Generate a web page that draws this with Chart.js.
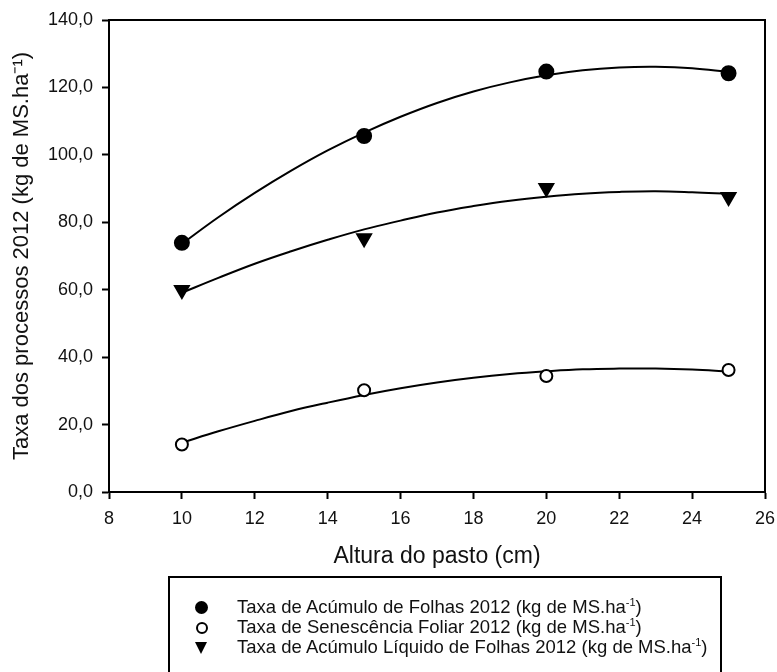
<!DOCTYPE html>
<html>
<head>
<meta charset="utf-8">
<script src="https://cdn.jsdelivr.net/npm/chart.js@4/dist/chart.umd.min.js"></script>
<style>
  html, body { margin: 0; padding: 0; background: #fff; }
  #wrap { position: relative; width: 777px; height: 672px; overflow: hidden; }
  #legend {
    position: absolute; left: 168px; top: 576px; width: 554px; height: 120px;
    border: 2px solid #000; border-bottom: none; box-sizing: border-box;
    font-family: "Liberation Sans", Arial, sans-serif; font-size: 18.5px; color: #111;
  }
  .row { position: absolute; left: 0; height: 20px; line-height: 20px; white-space: nowrap; }
  .row .txt { position: absolute; left: 67px; top: 0; }
  .row sup { font-size: 11px; line-height: 0; vertical-align: 7px; }
  .mk { position: absolute; }
  .dot { left: 25px; top: 4px; width: 13px; height: 13px; border-radius: 50%; background: #000; }
  .ring { left: 26px; top: 5px; width: 8px; height: 8px; border-radius: 50%; border: 2px solid #000; }
  .tri { left: 25px; top: 5px; width: 0; height: 0; border-left: 6px solid transparent; border-right: 6px solid transparent; border-top: 12px solid #000; }
</style>
</head>
<body>
<div id="wrap">
  <canvas id="chart" width="777" height="672"></canvas>
  <div id="legend">
    <div class="row" style="top:19px"><span class="mk dot"></span><span class="txt">Taxa de Acúmulo de Folhas 2012 (kg de MS.ha<sup>-1</sup>)</span></div>
    <div class="row" style="top:39px"><span class="mk ring"></span><span class="txt">Taxa de Senescência Foliar 2012 (kg de MS.ha<sup>-1</sup>)</span></div>
    <div class="row" style="top:59px"><span class="mk tri"></span><span class="txt">Taxa de Acúmulo Líquido de Folhas 2012 (kg de MS.ha<sup>-1</sup>)</span></div>
  </div>
</div>
<script>
// alturas observadas (cm)
const alturas = [10, 15, 20, 25];
const acumuloFolhas = [73.9, 105.6, 124.7, 124.2];
const senescencia = [14.1, 30.2, 34.4, 36.2];
const acumuloLiquido = [59.9, 75.3, 90.2, 87.5];

const alturasCurva = [10, 11, 12, 13, 14, 15, 16, 17, 18, 19, 20, 21, 22, 23, 24, 25];
const curvaAcumulo = [73.6, 81.5, 88.7, 95.3, 101.3, 106.6, 111.3, 115.4, 118.8, 121.5, 123.6, 125.1, 125.9, 126.1, 125.7, 124.6];
const curvaSenescencia = [14.6, 18.0, 21.1, 24.0, 26.5, 28.8, 30.8, 32.5, 33.9, 35.0, 35.8, 36.4, 36.6, 36.6, 36.3, 35.7];
const curvaLiquido = [59.1, 63.5, 67.7, 71.4, 74.8, 77.9, 80.5, 82.9, 84.8, 86.4, 87.6, 88.5, 89.0, 89.2, 88.9, 88.4];

const xTicks = [8, 10, 12, 14, 16, 18, 20, 22, 24, 26];
const yTicks = [0, 20, 40, 60, 80, 100, 120, 140];

const FONT = '"Liberation Sans", Arial, sans-serif';

function pts(xs, ys) {
    return xs.map((x, i) => ({ x: x, y: ys[i] }));
}

function curva(ys) {
    return {
        type: 'line',
        data: pts(alturasCurva, ys),
        borderColor: '#000',
        borderWidth: 2,
        pointRadius: 0,
        fill: false,
        tension: 0.4,
        order: 2
    };
}

function pontos(ys, style, filled, radius, rot) {
    return {
        type: 'scatter',
        data: pts(alturas, ys),
        pointStyle: style,
        pointRadius: radius,
        rotation: rot || 0,
        pointBackgroundColor: filled ? '#000' : '#fff',
        pointBorderColor: '#000',
        pointBorderWidth: 2,
        order: 1
    };
}

// moldura completa em volta da área do gráfico
const moldura = {
    id: 'moldura',
    afterDraw(chart) {
        const a = chart.chartArea;
        const ctx = chart.ctx;
        ctx.save();
        ctx.strokeStyle = '#000';
        ctx.lineWidth = 2;
        ctx.strokeRect(a.left, a.top, a.right - a.left, a.bottom - a.top);
        ctx.restore();
    }
};

const ctx = document.getElementById('chart').getContext('2d');
new Chart(ctx, {
    data: {
        datasets: [
            curva(curvaAcumulo),
            curva(curvaSenescencia),
            curva(curvaLiquido),
            pontos(acumuloFolhas, 'circle', true, 7),
            pontos(senescencia, 'circle', false, 6),
            pontos(acumuloLiquido, 'triangle', true, 8, 180)
        ]
    },
    options: {
        responsive: false,
        animation: false,
        layout: { padding: { left: 0, top: 20, right: 12, bottom: 100 } },
        plugins: {
            legend: { display: false },
            tooltip: { enabled: false }
        },
        scales: {
            x: {
                type: 'linear',
                min: 8,
                max: 26,
                afterBuildTicks: s => { s.ticks = xTicks.map(v => ({ value: v })); },
                afterFit: s => { s.height = 80; s.paddingLeft = 0; s.paddingRight = 0; },
                ticks: { color: '#111', padding: 9, font: { family: FONT, size: 18 } },
                grid: { drawOnChartArea: false, drawTicks: true, tickLength: 7, tickColor: '#000', tickWidth: 2 },
                border: { display: true, color: '#000', width: 2 },
                title: {
                    display: true,
                    text: 'Altura do pasto (cm)',
                    color: '#111',
                    font: { family: FONT, size: 23 },
                    padding: { top: 0, bottom: 2 }
                }
            },
            y: {
                type: 'linear',
                min: 0,
                max: 140,
                afterBuildTicks: s => { s.ticks = yTicks.map(v => ({ value: v })); },
                afterFit: s => { s.width = 109; s.paddingTop = 0; s.paddingBottom = 0; },
                ticks: {
                    color: '#111',
                    padding: 9,
                    font: { family: FONT, size: 18 },
                    callback: v => v.toFixed(1).replace('.', ',')
                },
                grid: { drawOnChartArea: false, drawTicks: true, tickLength: 7, tickColor: '#000', tickWidth: 2 },
                border: { display: true, color: '#000', width: 2 },
                title: {
                    display: true,
                    text: 'Taxa dos processos 2012 (kg de MS.ha⁻¹)',
                    color: '#111',
                    font: { family: FONT, size: 22 },
                    padding: { top: 9, bottom: 0 }
                }
            }
        }
    },
    plugins: [moldura]
});
</script>
</body>
</html>
